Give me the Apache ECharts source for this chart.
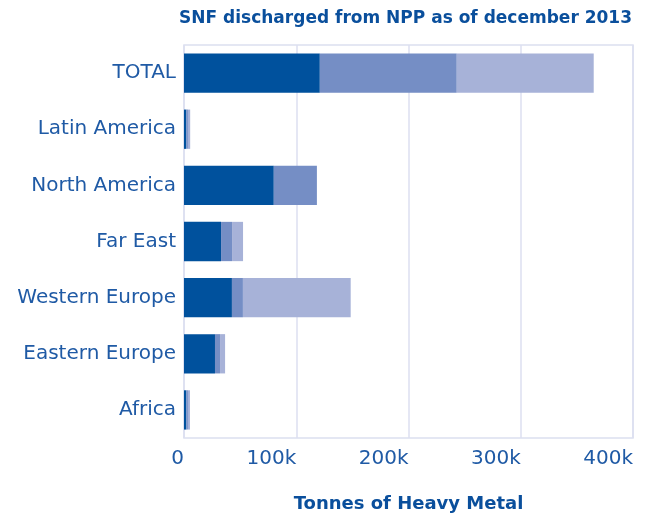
<!DOCTYPE html>
<html>
<head>
<meta charset="utf-8">
<script src="https://cdn.jsdelivr.net/npm/echarts@6/dist/echarts.min.js"></script>
<style>
html,body{margin:0;padding:0;background:#fff;}
#chart{width:649px;height:518px;}
</style>
</head>
<body>
<div id="chart"></div>
<script>
// Regions, listed top to bottom
var regions = ['TOTAL', 'Latin America', 'North America', 'Far East', 'Western Europe', 'Eastern Europe', 'Africa'];
// Tonnes of heavy metal, three stacked components per region
var partA = [121000, 2000, 80000, 33000, 42700, 27600, 2000];
var partB = [122000, 1500, 38400, 9800, 9800, 4500, 1500];
var partC = [122000, 2000, 0, 9800, 96000, 4500, 1800];
var xTicks = { min: 0, max: 400000, interval: 100000 };

var textBlue = '#1f5aa5';
var fontFam = '"DejaVu Sans", sans-serif';

var chart = echarts.init(document.getElementById('chart'));
function bar(name, data, color) {
  return {
    name: name, type: 'bar', stack: 'snf', data: data,
    barWidth: '70%', itemStyle: { color: color }, silent: true
  };
}
chart.setOption({
  animation: false,
  title: {
    text: 'SNF discharged from NPP as of december 2013',
    right: 12, top: 5,
    textStyle: { color: '#0a4f9c', fontSize: 17, fontWeight: 'bold', fontFamily: fontFam }
  },
  grid: {
    left: 184, right: 16, top: 45, bottom: 80,
    show: true, borderColor: '#dcdff0', borderWidth: 1.5
  },
  xAxis: {
    type: 'value', min: xTicks.min, max: xTicks.max, interval: xTicks.interval,
    name: 'Tonnes of Heavy Metal', nameLocation: 'middle', nameGap: 57,
    nameTextStyle: { color: '#0a4f9c', fontSize: 18, fontWeight: 'bold', fontFamily: fontFam },
    axisLine: { show: false }, axisTick: { show: false },
    splitLine: { lineStyle: { color: '#dcdff0', width: 1.5 } },
    axisLabel: {
      color: textBlue, fontSize: 20, fontFamily: fontFam, align: 'right', margin: 11,
      formatter: function (v) { return v === 0 ? '0' : (v / 1000) + 'k'; }
    }
  },
  yAxis: {
    type: 'category', data: regions, inverse: true,
    axisLine: { show: false }, axisTick: { show: false },
    axisLabel: { color: textBlue, fontSize: 20, fontFamily: fontFam, margin: 8 }
  },
  series: [
    bar('A', partA, '#00519d'),
    bar('B', partB, '#758ec5'),
    bar('C', partC, '#a7b2d8')
  ]
});
</script>
</body>
</html>
